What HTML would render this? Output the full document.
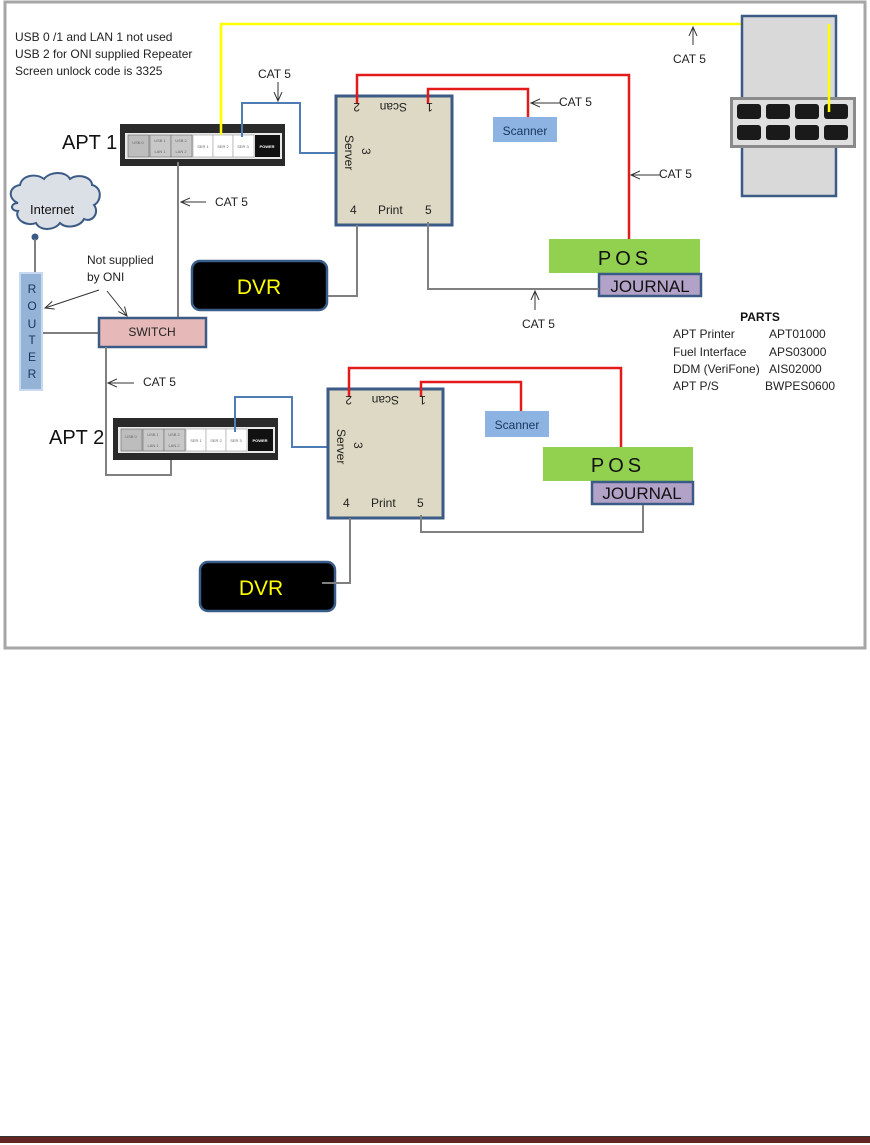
<!DOCTYPE html>
<html><head><meta charset="utf-8"><style>
body{margin:0;background:#fff;}
svg{display:block;font-family:"Liberation Sans",sans-serif;}
</style></head><body>
<svg width="870" height="1145" viewBox="0 0 870 1145" xmlns="http://www.w3.org/2000/svg">
<defs>
<marker id="ah" markerWidth="10" markerHeight="10" refX="9" refY="5" orient="auto" markerUnits="userSpaceOnUse">
<path d="M0,1 L9,5 L0,9" fill="none" stroke="#333" stroke-width="1"/></marker>
<g id="apt">
<rect x="0" y="0" width="165" height="42" fill="#2a2a2a"/>
<rect x="5" y="9" width="157" height="26" fill="#e8e8e8"/>
<rect x="8" y="11" width="21" height="22" fill="#bdbdbd" stroke="#777" stroke-width="0.7"/>
<rect x="30" y="11" width="21" height="22" fill="#c8c8c8" stroke="#777" stroke-width="0.7"/>
<rect x="51" y="11" width="21" height="22" fill="#c8c8c8" stroke="#777" stroke-width="0.7"/>
<rect x="73" y="11" width="20" height="22" fill="#fff" stroke="#aaa" stroke-width="0.7"/>
<rect x="93" y="11" width="20" height="22" fill="#fff" stroke="#aaa" stroke-width="0.7"/>
<rect x="113" y="11" width="21" height="22" fill="#fff" stroke="#aaa" stroke-width="0.7"/>
<rect x="135" y="11" width="25" height="22" fill="#111"/>
<g font-size="4" fill="#666" text-anchor="middle">
<text x="18" y="20">USB 0</text><text x="40" y="18">USB 1</text><text x="40" y="29">LAN 1</text>
<text x="61" y="18">USB 2</text><text x="61" y="29">LAN 2</text>
<text x="83" y="24">SER 1</text><text x="103" y="24">SER 2</text><text x="123" y="24">SER 3</text>
<text x="147" y="24" fill="#fff" font-weight="bold">POWER</text></g>
</g>
</defs>
<rect x="0" y="0" width="870" height="1145" fill="#fff"/>
<rect x="5" y="2" width="860" height="646" fill="#fff" stroke="#a6a6a6" stroke-width="3"/>

<g font-size="12" fill="#222">
<text x="15" y="41">USB 0 /1 and LAN 1 not used</text>
<text x="15" y="58">USB 2 for ONI supplied Repeater</text>
<text x="15" y="75">Screen unlock code is 3325</text>
</g>

<polyline points="221,134 221,24 829,24 829,110" fill="none" stroke="#ffff00" stroke-width="2.5"/>
<line x1="693" y1="45" x2="693" y2="27" stroke="#333" marker-end="url(#ah)"/>
<text x="673" y="63" font-size="12" fill="#222">CAT 5</text>

<rect x="742" y="16" width="94" height="180" fill="#d9d9d9" stroke="#3b5a85" stroke-width="2.5"/>
<rect x="730" y="97" width="126" height="51" fill="#8a8a8a"/>
<rect x="733" y="100" width="120" height="45" fill="#e0e0e0"/>
<g fill="#1a1a1a">
<rect x="737" y="104" width="24" height="15" rx="3"/><rect x="766" y="104" width="24" height="15" rx="3"/><rect x="795" y="104" width="24" height="15" rx="3"/><rect x="824" y="104" width="24" height="15" rx="3"/>
<rect x="737" y="125" width="24" height="15" rx="3"/><rect x="766" y="125" width="24" height="15" rx="3"/><rect x="795" y="125" width="24" height="15" rx="3"/><rect x="824" y="125" width="24" height="15" rx="3"/>
</g>
<polyline points="829,24 829,112" fill="none" stroke="#ffff00" stroke-width="2.5"/>

<text x="62" y="149" font-size="20" fill="#111">APT 1</text>
<use href="#apt" x="120" y="124"/>
<polyline points="221,24 221,135" fill="none" stroke="#ffff00" stroke-width="2.5"/>
<polyline points="242,137 242,103 300,103 300,153 336,153" fill="none" stroke="#4f7cb4" stroke-width="2"/>
<line x1="278" y1="82" x2="278" y2="101" stroke="#333" marker-end="url(#ah)"/>
<text x="258" y="78" font-size="12" fill="#222">CAT 5</text>

<rect x="336" y="96" width="116" height="129" fill="#ddd9c4" stroke="#3b5a85" stroke-width="3"/>
<polyline points="357,104 357,75 629,75 629,239" fill="none" stroke="#e31a1a" stroke-width="2.5"/>
<polyline points="428,104 428,89 528,89 528,117" fill="none" stroke="#e31a1a" stroke-width="2.5"/>
<g font-size="12" fill="#222">
<text transform="translate(360,103) rotate(180)">2</text>
<text transform="translate(407,103) rotate(180)">Scan</text>
<text transform="translate(433,103) rotate(180)">1</text>
<text transform="translate(345,135) rotate(90)">Server</text>
<text transform="translate(362,148) rotate(90)">3</text>
<text x="350" y="214">4</text><text x="378" y="214">Print</text><text x="425" y="214">5</text>
</g>
<line x1="560" y1="103" x2="531" y2="103" stroke="#333" marker-end="url(#ah)"/>
<text x="559" y="106" font-size="12" fill="#222">CAT 5</text>
<rect x="493" y="117" width="64" height="25" fill="#8db3e2"/>
<text x="525" y="135" font-size="12" fill="#17365d" text-anchor="middle">Scanner</text>
<line x1="660" y1="175" x2="631" y2="175" stroke="#333" marker-end="url(#ah)"/>
<text x="659" y="178" font-size="12" fill="#222">CAT 5</text>
<rect x="549" y="239" width="151" height="34" fill="#92d050"/>
<text x="625" y="265" font-size="20" fill="#111" text-anchor="middle" letter-spacing="4">POS</text>
<rect x="599" y="274" width="102" height="22" fill="#b3a2c7" stroke="#3b5a85" stroke-width="2.5"/>
<text x="650" y="292" font-size="17" fill="#111" text-anchor="middle">JOURNAL</text>
<polyline points="428,222 428,289 599,289" fill="none" stroke="#808080" stroke-width="2"/>
<line x1="535" y1="310" x2="535" y2="291" stroke="#333" marker-end="url(#ah)"/>
<text x="522" y="328" font-size="12" fill="#222">CAT 5</text>

<rect x="192" y="261" width="135" height="49" rx="8" fill="#000" stroke="#385d8a" stroke-width="2.5"/>
<text x="259" y="294" font-size="21" fill="#ffff00" text-anchor="middle">DVR</text>
<polyline points="357,225 357,296 328,296" fill="none" stroke="#808080" stroke-width="2"/>

<line x1="178" y1="162" x2="178" y2="318" stroke="#808080" stroke-width="2"/>
<line x1="206" y1="202" x2="181" y2="202" stroke="#333" marker-end="url(#ah)"/>
<text x="215" y="206" font-size="12" fill="#222">CAT 5</text>

<g transform="translate(0,13)">
<path d="M18,190 C8,186 8,174 20,172 C22,162 36,160 44,166 C50,158 66,158 70,166 C78,160 92,164 92,172 C102,174 102,188 94,192 C100,200 92,210 84,206 C80,214 66,216 60,210 C54,218 40,218 36,210 C26,214 14,206 18,198 C10,198 10,190 18,190 Z" fill="#dbe0e6" stroke="#3b5a85" stroke-width="2"/>
<text x="30" y="201" font-size="13" fill="#111">Internet</text>
</g>
<circle cx="35" cy="237" r="3.5" fill="#3b5a85"/>
<line x1="35" y1="239" x2="35" y2="273" stroke="#808080" stroke-width="2"/>

<rect x="20" y="273" width="22" height="117" fill="#95b3d7" stroke="#c6d9f0" stroke-width="2"/>
<g font-size="12" fill="#17365d" text-anchor="middle">
<text x="32" y="293">R</text><text x="32" y="310">O</text><text x="32" y="328">U</text><text x="32" y="344">T</text><text x="32" y="361">E</text><text x="32" y="378">R</text>
</g>
<text x="87" y="264" font-size="12" fill="#222">Not supplied</text>
<text x="87" y="281" font-size="12" fill="#222">by ONI</text>
<line x1="99" y1="290" x2="45" y2="308" stroke="#333" marker-end="url(#ah)"/>
<line x1="107" y1="291" x2="127" y2="316" stroke="#333" marker-end="url(#ah)"/>
<line x1="43" y1="333" x2="99" y2="333" stroke="#808080" stroke-width="2"/>
<rect x="99" y="318" width="107" height="29" fill="#e6b9b8" stroke="#3b5a85" stroke-width="2.5"/>
<text x="152" y="336" font-size="12" fill="#222" text-anchor="middle">SWITCH</text>

<polyline points="106,347 106,475 171,475 171,458" fill="none" stroke="#808080" stroke-width="2"/>
<line x1="134" y1="383" x2="108" y2="383" stroke="#333" marker-end="url(#ah)"/>
<text x="143" y="386" font-size="12" fill="#222">CAT 5</text>
<text x="49" y="444" font-size="20" fill="#111">APT 2</text>
<use href="#apt" x="113" y="418"/>
<polyline points="235,432 235,397 292,397 292,447 328,447" fill="none" stroke="#4f7cb4" stroke-width="2"/>

<rect x="328" y="389" width="115" height="129" fill="#ddd9c4" stroke="#3b5a85" stroke-width="3"/>
<polyline points="349,397 349,368 621,368 621,447" fill="none" stroke="#e31a1a" stroke-width="2.5"/>
<polyline points="421,397 421,382 521,382 521,411" fill="none" stroke="#e31a1a" stroke-width="2.5"/>
<g font-size="12" fill="#222">
<text transform="translate(352,396) rotate(180)">2</text>
<text transform="translate(399,396) rotate(180)">Scan</text>
<text transform="translate(426,396) rotate(180)">1</text>
<text transform="translate(337,429) rotate(90)">Server</text>
<text transform="translate(354,442) rotate(90)">3</text>
<text x="343" y="507">4</text><text x="371" y="507">Print</text><text x="417" y="507">5</text>
</g>
<rect x="485" y="411" width="64" height="26" fill="#8db3e2"/>
<text x="517" y="429" font-size="12" fill="#17365d" text-anchor="middle">Scanner</text>
<rect x="543" y="447" width="150" height="34" fill="#92d050"/>
<text x="618" y="472" font-size="20" fill="#111" text-anchor="middle" letter-spacing="4">POS</text>
<rect x="592" y="482" width="101" height="22" fill="#b3a2c7" stroke="#3b5a85" stroke-width="2.5"/>
<text x="642" y="499" font-size="17" fill="#111" text-anchor="middle">JOURNAL</text>
<polyline points="421,515 421,532 643,532 643,505" fill="none" stroke="#808080" stroke-width="2"/>

<rect x="200" y="562" width="135" height="49" rx="8" fill="#000" stroke="#385d8a" stroke-width="2.5"/>
<text x="261" y="595" font-size="21" fill="#ffff00" text-anchor="middle">DVR</text>
<polyline points="350,518 350,583 322,583" fill="none" stroke="#808080" stroke-width="2"/>

<text x="760" y="321" font-size="12" font-weight="bold" fill="#111" text-anchor="middle">PARTS</text>
<g font-size="12" fill="#222">
<text x="673" y="338">APT Printer</text><text x="769" y="338">APT01000</text>
<text x="673" y="356">Fuel Interface</text><text x="769" y="356">APS03000</text>
<text x="673" y="373">DDM (VeriFone)</text><text x="769" y="373">AIS02000</text>
<text x="673" y="390">APT P/S</text><text x="765" y="390">BWPES0600</text>
</g>

<rect x="0" y="1137" width="870" height="6" fill="#632523"/>
<rect x="0" y="1136" width="870" height="1" fill="#333"/>
</svg>
</body></html>
